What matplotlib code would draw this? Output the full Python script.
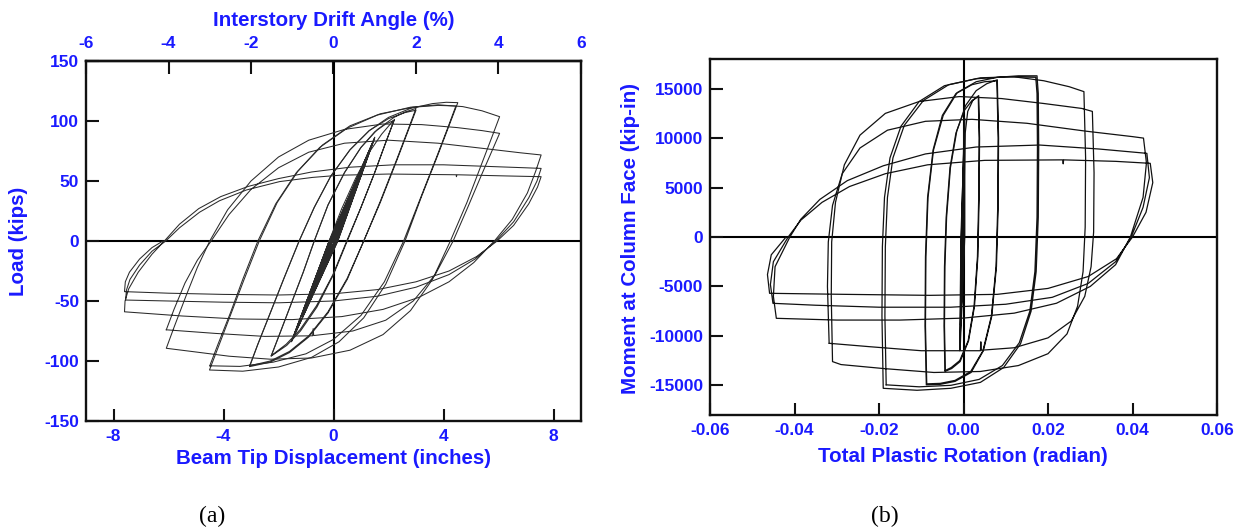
import matplotlib
matplotlib.use("Agg")
import matplotlib.pyplot as plt
import numpy as np

plt.rcParams['font.family'] = ['Liberation Sans', 'DejaVu Sans']
plt.rcParams['axes.unicode_minus'] = False

W, H = 1243, 531
BLUE = '#1a1aff'

# ---------------- Panel (a): load (kips) vs beam tip displacement (in) ----------------
a_elastic = np.array([
    (0.0, 0), (0.56, 32), (0.03, 0), (-0.56, -31), (-0.03, 0), (0.57, 32), (0.04, 0), (-0.57, -32),
    (-0.04, 0), (0.75, 43), (0.05, 0), (-0.76, -42), (-0.05, 0), (0.76, 43), (0.06, 0), (-0.76, -42),
    (-0.06, 0), (1.13, 65), (0.09, 0), (-1.14, -63), (-0.09, 0), (1.13, 64), (0.10, 0), (-1.14, -63),
    (-0.10, 0), (1.50, 86.5), (0.14, 0), (-1.52, -83), (-0.15, 0), (1.49, 85.5), (0.16, 0), (-1.53, -84),
    (-0.16, 0), (1.50, 86), (0.15, 0), (-1.52, -83.5), (-0.16, 0)])
a_cycle15 = np.array([
    (-0.16, 0), (0.3, 27), (0.8, 52), (1.3, 74), (1.75, 89), (2.05, 97), (2.22, 101.4),
    (1.9, 82), (1.5, 57), (1.0, 28), (0.5, 0), (0.0, -28), (-0.6, -55), (-1.2, -75), (-1.7, -87), (-2.27, -96),
    (-1.95, -77), (-1.5, -50), (-1.1, -26), (-0.7, 0), (-0.2, 30), (0.4, 57), (1.0, 78), (1.5, 91), (1.9, 97.5), (2.2, 100.5),
    (1.88, 81), (1.48, 56), (0.98, 27), (0.48, 0), (-0.02, -28), (-0.62, -54), (-1.22, -74), (-1.72, -86), (-2.26, -95.5)])
a_cycle20 = np.array([
    (-2.26, -95.5), (-1.95, -77), (-1.5, -50), (-1.1, -26), (-0.7, 0), (-0.2, 30), (0.4, 57), (1.0, 78), (1.6, 93),
    (2.2, 103), (2.6, 107.5), (3.0, 110.5),
    (2.7, 92), (2.3, 68), (1.7, 33), (1.1, 0), (0.5, -32), (-0.2, -60), (-0.9, -80), (-1.6, -93), (-2.3, -101), (-3.05, -104.7),
    (-2.75, -86), (-2.3, -60), (-1.8, -31), (-1.25, 0), (-0.7, 28), (-0.1, 54), (0.6, 76), (1.3, 92), (2.0, 102),
    (2.6, 107), (3.0, 109),
    (2.7, 91), (2.3, 67), (1.7, 32), (1.1, 0), (0.5, -31), (-0.2, -59), (-0.9, -79), (-1.6, -92), (-2.3, -100), (-3.05, -104)])
a_cycle30 = np.array([
    (-3.05, -104), (-2.75, -86), (-2.3, -60), (-1.8, -31), (-1.25, 0), (-0.7, 28), (-0.1, 54), (0.6, 76), (1.3, 92),
    (2.0, 103), (2.8, 110.5), (3.6, 114.5), (4.1, 115.6), (4.52, 115.3),
    (4.2, 96), (3.8, 72), (3.2, 37), (2.6, 0), (1.9, -36), (1.1, -64), (0.2, -84), (-0.8, -97), (-2.0, -105),
    (-3.3, -108.5), (-4.51, -107.5),
    (-4.2, -89), (-3.75, -62), (-3.25, -32), (-2.7, 0), (-2.05, 32), (-1.3, 58), (-0.4, 80), (0.6, 96), (1.7, 106),
    (2.9, 111.5), (3.8, 113), (4.45, 112.5),
    (4.15, 94), (3.75, 70), (3.15, 35), (2.55, 0), (1.85, -34), (1.0, -62), (0.0, -82), (-1.0, -94), (-2.2, -101),
    (-3.4, -104.5), (-4.5, -104)])
a_cycle40 = np.array([
    (-4.5, -104), (-4.2, -86), (-3.75, -60), (-3.3, -32), (-2.75, 0), (-2.1, 31), (-1.35, 57), (-0.5, 78), (0.5, 94),
    (1.6, 105), (2.8, 111.5), (3.8, 113.5), (4.7, 112), (5.4, 108.5), (6.04, 103.6),
    (5.75, 86), (5.35, 62), (4.85, 32), (4.25, 0), (3.6, -32), (2.8, -58), (1.8, -78), (0.6, -91), (-0.8, -97.5),
    (-2.3, -98.5), (-3.8, -96), (-5.0, -92.5), (-6.08, -89.4),
    (-5.8, -72), (-5.35, -45), (-4.95, -22), (-4.5, 0), (-3.85, 26), (-3.0, 50), (-2.0, 70), (-0.9, 84), (0.4, 93),
    (1.8, 97.5), (3.2, 97), (4.5, 94.5), (5.4, 92), (6.04, 89.7),
    (5.78, 76), (5.4, 56), (4.9, 29), (4.35, 0), (3.7, -28), (2.9, -50), (1.9, -66), (0.7, -75), (-0.72, -78.8),
    (-0.74, -73), (-0.76, -79), (-2.5, -79.5), (-4.3, -77), (-6.08, -74)])
a_cycle50 = np.array([
    (-6.08, -74), (-5.8, -57), (-5.4, -35), (-4.95, -16), (-4.45, 0), (-3.8, 22), (-3.0, 43), (-2.0, 61), (-0.9, 74),
    (0.4, 81.5), (2.0, 84), (3.8, 81.5), (5.5, 77), (6.8, 73.5), (7.55, 71.7),
    (7.35, 58), (7.05, 40), (6.5, 18), (5.85, 0), (5.1, -18), (4.2, -34), (3.1, -47), (1.8, -57), (0.3, -63),
    (-1.5, -65.5), (-3.5, -65), (-5.5, -62.5), (-7.6, -59),
    (-7.58, -50), (-7.45, -40), (-7.1, -26), (-6.6, -11), (-6.15, 0), (-5.6, 14), (-4.9, 27), (-4.1, 37), (-3.1, 45.5),
    (-2.0, 52), (-0.8, 57.5), (0.6, 61.5), (2.2, 63.5), (4.0, 63.5), (5.8, 62), (7.0, 61), (7.55, 60.5),
    (7.4, 50), (7.1, 36), (6.55, 16), (5.9, 0), (5.15, -15), (4.2, -28), (3.0, -38.5), (1.6, -46), (0.0, -50),
    (-2.0, -51.5), (-4.0, -51), (-6.0, -50), (-7.56, -49.2),
    (-7.53, -41), (-7.4, -32), (-7.05, -20), (-6.6, -8.5), (-6.1, 0), (-5.6, 11), (-4.87, 24), (-4.15, 33.5),
    (-3.17, 42.5), (-1.96, 49.5), (-0.76, 53), (0.22, 54.8), (2.0, 55.8), (4.46, 55.2), (4.47, 53.6), (4.49, 55.2),
    (6.3, 54.2), (7.55, 53.6),
    (7.42, 45), (7.1, 31), (6.55, 13), (5.95, 0), (5.2, -13), (4.2, -25), (3.0, -34), (1.6, -40.5), (0.0, -44),
    (-2.0, -45), (-4.0, -44.5), (-6.0, -43.5), (-7.6, -42.2),
    (-7.57, -34), (-7.42, -26), (-7.05, -15), (-6.6, -5.5), (-6.2, 0)])

a_xticks = [-8, -4, 0, 4, 8]
a_yticks = [-150, -100, -50, 0, 50, 100, 150]
a_top_ticks = [-6, -4, -2, 0, 2, 4, 6]

# ---------------- Panel (b): moment (kip-in) vs total plastic rotation (rad) ----------------
b_elastic = np.array([
    (0.0, 0), (0.0000, 4500), (-0.0003, 0), (-0.0004, -4400), (0.0001, 0), (0.0001, 6100), (-0.0003, 0),
    (-0.0005, -6000), (0.0002, 0), (0.0002, 9200), (-0.0004, 0), (-0.0007, -8900), (0.0002, 0), (0.0002, 12100),
    (-0.0005, 0), (-0.0008, -11400), (0.0003, 0), (0.0003, 12000), (-0.0006, 0), (-0.0009, -11500), (0.0001, 0)])
b_cycle15 = np.array([
    (0.0001, 0), (0.0002, 6000), (0.0004, 10500), (0.0010, 12700), (0.0022, 13800), (0.0036, 14300),
    (0.0038, 10000), (0.0037, 4000), (0.0034, -2000), (0.0026, -7000), (0.0012, -10500), (-0.0008, -12600),
    (-0.0028, -13300), (-0.0044, -13600),
    (-0.0046, -9000), (-0.0045, -3000), (-0.0041, 2000), (-0.0032, 7000), (-0.0018, 10500), (0.0002, 12800),
    (0.0020, 13800), (0.0035, 14200),
    (0.0037, 10000), (0.0036, 4000), (0.0033, -2000), (0.0025, -7000), (0.0011, -10500), (-0.0009, -12500),
    (-0.0029, -13200), (-0.0043, -13500)])
b_cycle20 = np.array([
    (-0.0043, -13500), (-0.0045, -9000), (-0.0044, -3000), (-0.0040, 2000), (-0.0031, 7000), (-0.0016, 10700),
    (0.0005, 13300), (0.0030, 14800), (0.0055, 15500), (0.0080, 15900),
    (0.0083, 10000), (0.0082, 3000), (0.0078, -3000), (0.0067, -8000), (0.0047, -11500), (0.0018, -13700),
    (-0.0020, -14600), (-0.0055, -14900), (-0.0088, -14950),
    (-0.0091, -9000), (-0.0090, -2000), (-0.0085, 4000), (-0.0072, 8800), (-0.0050, 12300), (-0.0018, 14500),
    (0.0020, 15400), (0.0050, 15700), (0.0079, 15800),
    (0.0082, 10000), (0.0081, 3000), (0.0077, -3000), (0.0066, -8000), (0.0046, -11500), (0.0017, -13600),
    (-0.0020, -14500), (-0.0055, -14800), (-0.0087, -14850)])
b_cycle30 = np.array([
    (-0.0087, -14850), (-0.0090, -9000), (-0.0089, -2000), (-0.0084, 4000), (-0.0071, 8800), (-0.0048, 12300),
    (-0.0015, 14600), (0.0030, 15700), (0.0080, 16150), (0.0130, 16300), (0.0174, 16300),
    (0.0177, 14500), (0.0178, 9000), (0.0177, 2000), (0.0172, -3500), (0.0160, -7500), (0.0135, -10800),
    (0.0095, -13200), (0.0040, -14700), (-0.0030, -15300), (-0.0110, -15500), (-0.0190, -15300),
    (-0.0193, -8000), (-0.0192, -1000), (-0.0187, 4000), (-0.0174, 8000), (-0.0148, 11200), (-0.0105, 13700),
    (-0.0045, 15300), (0.0030, 16000), (0.0100, 16200), (0.0171, 16150),
    (0.0174, 14500), (0.0175, 9000), (0.0174, 2000), (0.0169, -3500), (0.0157, -7500), (0.0132, -10700),
    (0.0092, -13000), (0.0037, -14400), (-0.0030, -15000), (-0.0105, -15150), (-0.0183, -14950)])
b_cycle40 = np.array([
    (-0.0183, -14950), (-0.0186, -8000), (-0.0185, -1000), (-0.0180, 4000), (-0.0167, 8000), (-0.0140, 11300),
    (-0.0095, 13800), (-0.0035, 15400), (0.0040, 16100), (0.0120, 16200), (0.0190, 15800), (0.0250, 15200),
    (0.0285, 14700),
    (0.0289, 8000), (0.0288, 1000), (0.0283, -3500), (0.0270, -7000), (0.0245, -9800), (0.0200, -11800),
    (0.0130, -13000), (0.0040, -13600), (-0.0070, -13700), (-0.0190, -13300), (-0.0290, -12900), (-0.0310, -12600),
    (-0.0313, -6000), (-0.0312, -500), (-0.0303, 3500), (-0.0282, 7300), (-0.0245, 10300), (-0.0185, 12500),
    (-0.0105, 13700), (-0.0010, 14200), (0.0090, 14000), (0.0190, 13500), (0.0280, 13000), (0.0305, 12700),
    (0.0309, 6500), (0.0308, 500), (0.0302, -3000), (0.0287, -6000), (0.0255, -8500), (0.0200, -10200),
    (0.0120, -11200), (0.0042, -11450), (0.0041, -10600), (0.0040, -11500), (-0.0100, -11500), (-0.0220, -11100),
    (-0.0318, -10750)])
b_cycle50 = np.array([
    (-0.0318, -10750), (-0.0322, -5000), (-0.0320, -500), (-0.0310, 3200), (-0.0287, 6400), (-0.0245, 9000),
    (-0.0180, 10800), (-0.0090, 11700), (0.0020, 11900), (0.0150, 11500), (0.0290, 10700), (0.0400, 10150),
    (0.0426, 10000),
    (0.0433, 7500), (0.0425, 4000), (0.0395, 0), (0.0360, -2800), (0.0300, -5000), (0.0220, -6700),
    (0.0120, -7700), (0.0000, -8200), (-0.0150, -8400), (-0.0300, -8400), (-0.0443, -8223),
    (-0.0450, -6000), (-0.0446, -3000), (-0.0411, 0), (-0.0385, 1800), (-0.0340, 3800), (-0.0275, 5700),
    (-0.0190, 7200), (-0.0090, 8400), (0.0030, 9100), (0.0180, 9300), (0.0320, 8900), (0.0434, 8460),
    (0.0440, 6000), (0.0425, 3000), (0.0397, 0), (0.0360, -2500), (0.0295, -4700), (0.0210, -6100),
    (0.0100, -6800), (-0.0030, -7100), (-0.0200, -7100), (-0.0350, -6900), (-0.0451, -6706),
    (-0.0457, -4800), (-0.0450, -2500), (-0.0415, 0), (-0.0385, 1700), (-0.0335, 3500), (-0.0270, 5100),
    (-0.0185, 6400), (-0.0085, 7300), (0.0050, 7750), (0.0235, 7800), (0.0236, 7400), (0.0237, 7800),
    (0.0360, 7650), (0.0442, 7450),
    (0.0448, 5500), (0.0432, 2500), (0.0400, 0), (0.0362, -2200), (0.0295, -4000), (0.0200, -5200),
    (0.0080, -5800), (-0.0080, -5900), (-0.0280, -5800), (-0.0459, -5695),
    (-0.0464, -3800), (-0.0455, -1800), (-0.0420, 0)])

b_xticks = [-0.06, -0.04, -0.02, 0.0, 0.02, 0.04, 0.06]
b_xticklabels = ['-0.06', '-0.04', '-0.02', '0.00', '0.02', '0.04', '0.06']
b_yticks = [-15000, -10000, -5000, 0, 5000, 10000, 15000]

# ---------------- figure ----------------
fig = plt.figure(figsize=(W / 100, H / 100), dpi=100)
fig.patch.set_facecolor('white')

def fx(px):
    return px / W

def fy(py):
    return 1 - py / H

axA = fig.add_axes([fx(86), fy(421), fx(581) - fx(86), fy(61) - fy(421)])
axB = fig.add_axes([fx(710), fy(415), fx(1217) - fx(710), fy(59) - fy(415)])

TICK_FS = 12.5

def style(ax):
    for s in ax.spines.values():
        s.set_linewidth(1.7)
        s.set_color('#111111')
    ax.axhline(0, color='black', lw=1.5, zorder=1)
    ax.axvline(0, color='black', lw=1.5, zorder=1)
    ax.tick_params(axis='both', which='major', direction='in', length=9, width=1.5,
                   labelsize=TICK_FS, labelcolor=BLUE, color='#111111',
                   top=False, right=False)
    ax.tick_params(axis='x', pad=6)
    ax.tick_params(axis='y', pad=5)
    for lab in ax.get_xticklabels() + ax.get_yticklabels():
        lab.set_fontweight('bold')

for arr in [a_elastic, a_cycle15, a_cycle20, a_cycle30, a_cycle40, a_cycle50]:
    axA.plot(arr[:, 0], arr[:, 1], color='#2a2a2a', lw=0.75, zorder=2, solid_joinstyle='round')
axA.set_xlim(-9, 9)
axA.set_ylim(-150, 150)
axA.set_xticks(a_xticks)
axA.set_yticks(a_yticks)
style(axA)

sec = axA.secondary_xaxis('top', functions=(lambda d: d / 1.5, lambda t: t * 1.5))
sec.set_xticks(a_top_ticks)
sec.tick_params(direction='in', length=9, width=1.5, labelsize=TICK_FS, labelcolor=BLUE,
                color='#111111', pad=7)
sec.spines['top'].set_linewidth(1.7)
for lab in sec.get_xticklabels():
    lab.set_fontweight('bold')

for arr in [b_elastic, b_cycle15, b_cycle20, b_cycle30, b_cycle40, b_cycle50]:
    axB.plot(arr[:, 0], arr[:, 1], color='#111111', lw=0.9, zorder=2, solid_joinstyle='round')
axB.set_xlim(-0.06, 0.06)
axB.set_ylim(-18000, 18000)
axB.set_xticks(b_xticks)
axB.set_xticklabels(b_xticklabels)
axB.set_yticks(b_yticks)
style(axB)

lab_kw = dict(fontsize=14.8, fontweight='bold', color=BLUE)
axA.set_xlabel('Beam Tip Displacement (inches)', va='baseline', ha='center', **lab_kw)
axA.xaxis.set_label_coords(fx(334), fy(464), transform=fig.transFigure)
sec.set_xlabel('Interstory Drift Angle (%)', va='baseline', ha='center', **lab_kw)
sec.xaxis.set_label_coords(fx(334), fy(26), transform=fig.transFigure)
axA.set_ylabel('Load (kips)', va='center', ha='center', **lab_kw)
axA.yaxis.set_label_coords(fx(19), fy(241), transform=fig.transFigure)

axB.set_xlabel('Total Plastic Rotation (radian)', va='baseline', ha='center', **lab_kw)
axB.xaxis.set_label_coords(fx(963), fy(462), transform=fig.transFigure)
axB.set_ylabel('Moment at Column Face (kip-in)', va='center', ha='center', **lab_kw)
axB.yaxis.set_label_coords(fx(631), fy(238), transform=fig.transFigure)

cap_kw = dict(fontsize=17, family=['Liberation Serif', 'DejaVu Serif'], fontweight='normal',
              ha='center', va='center', color='black')
fig.text(fx(212), fy(516), '(a)', **cap_kw)
fig.text(fx(885), fy(516), '(b)', **cap_kw)

fig.savefig('out.png', dpi=100, facecolor='white')
